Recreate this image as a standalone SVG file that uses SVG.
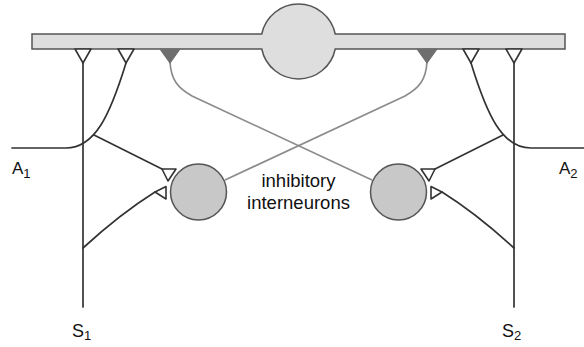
<svg xmlns="http://www.w3.org/2000/svg" width="584" height="347" viewBox="0 0 584 347">
  <style>
    .axon { fill: none; stroke: #333; stroke-width: 1.7; stroke-linecap: round; }
    .inhib { fill: none; stroke: #8c8c8c; stroke-width: 1.7; }
    .syn { fill: #fff; stroke: #333; stroke-width: 1.6; stroke-linejoin: round; }
    .synInh { fill: #6e6e6e; stroke: #6e6e6e; stroke-width: 1.2; stroke-linejoin: round; }
    .soma { fill: #c8c8c8; stroke: #555; stroke-width: 1.5; }
    .cell { fill: #dedede; stroke: #555; stroke-width: 1.5; }
    .lbl { font-family: "Liberation Sans", Arial, sans-serif; fill: #111; }
    .sub { font-size: 13px; }
  </style>
  <rect width="584" height="347" fill="#fff"/>

  <!-- fibres and inhibitory projections -->
  <g id="connectors">
    <!-- afferent A1 and its branch to the left interneuron -->
    <path class="axon" d="M12,148 H66 C95,148 110,115 126,63"/>
    <path class="axon" d="M94,135 L162,169"/>
    <!-- afferent S1 and its branch -->
    <path class="axon" d="M83,63 V307"/>
    <path class="axon" d="M83,248 Q120,214 155,192"/>
    <!-- afferent A2 and its branch to the right interneuron -->
    <path class="axon" d="M585,148 H531 C502,148 487,115 471,63"/>
    <path class="axon" d="M503,135 L435,169"/>
    <!-- afferent S2 and its branch -->
    <path class="axon" d="M514,63 V307"/>
    <path class="axon" d="M514,248 Q477,214 442,192"/>
    <!-- crossed inhibitory axons -->
    <path class="inhib" d="M170,62 C171,80 178,88 192,96 L372,180"/>
    <path class="inhib" d="M427,62 C426,80 419,88 405,96 L225,180"/>
  </g>

  <!-- principal cell: soma with its dendrite bar -->
  <g id="principal-cell">
    <path class="cell" d="M32,34 H261.76 A37.5,37.5 0 0 1 335.24,34 H565 V49 H335.24 A37.5,37.5 0 0 1 261.76,49 H32 Z"/>
    <polygon class="syn" points="75,49 91,49 83,63"/>
    <polygon class="syn" points="118,49 134,49 126,63"/>
    <polygon class="synInh" points="160,49 180,49 170,63"/>
    <polygon class="synInh" points="417,49 437,49 427,63"/>
    <polygon class="syn" points="463,49 479,49 471,63"/>
    <polygon class="syn" points="506,49 522,49 514,63"/>
  </g>

  <g id="interneuron-left">
    <circle class="soma" cx="198.5" cy="192" r="28"/>
    <polygon class="syn" points="162,169 176,169 168,181"/>
    <polygon class="syn" points="155,192 166,186.5 166,199"/>
  </g>

  <g id="interneuron-right">
    <circle class="soma" cx="398.5" cy="192" r="28"/>
    <polygon class="syn" points="435,169 421,169 429,181"/>
    <polygon class="syn" points="442,192 431,186.5 431,199"/>
  </g>

  <g id="labels" class="lbl">
    <text x="298.5" y="187" font-size="18.5" text-anchor="middle">inhibitory</text>
    <text x="298.5" y="208.5" font-size="18.5" text-anchor="middle">interneurons</text>
    <text x="12" y="174" font-size="17">A<tspan class="sub" dy="4">1</tspan></text>
    <text x="559" y="174" font-size="17">A<tspan class="sub" dy="4">2</tspan></text>
    <text x="72" y="337" font-size="18">S<tspan class="sub" dy="3">1</tspan></text>
    <text x="502" y="337" font-size="18">S<tspan class="sub" dy="3">2</tspan></text>
  </g>
</svg>
